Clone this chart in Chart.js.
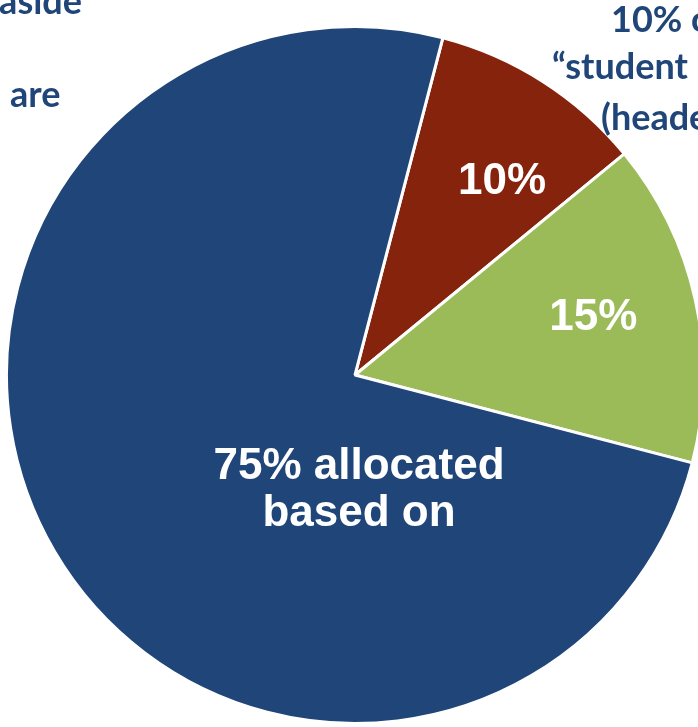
<!DOCTYPE html>
<html>
<head>
<meta charset="utf-8">
<script src="https://cdn.jsdelivr.net/npm/chart.js@4"></script>
<style>
html,body{margin:0;padding:0;overflow:hidden;background:#ffffff;width:698px;height:727px}
canvas{position:absolute;left:0;top:0}
</style>
</head>
<body>
<canvas id="c" width="720" height="760"></canvas>
<script>
// ---- data ----
const categories = ["10% set aside for student need", "15% set aside", "75% allocated based on enrollment"];
const shares = [10, 15, 75];
const sliceLabels = [["10%"], ["15%"], ["75% allocated", "based on"]];
const notesLeft = ["aside", "are"];
const notesRight = ["10% of", "\u201cstudent", "(header)"];

// ---- styling (not data) ----
const sliceColors = ["#85230D", "#9BBB59", "#1F4579"];
const textBlue = "#1F4579";
const labelPlacement = [
  { turn: 4.7, dist: 0.696 },
  { turn: -1.1, dist: 0.703 },
  { turn: -61.6, dist: 0.33 }
];

const sliceLabelPlugin = {
  id: "sliceLabels",
  afterDatasetsDraw(chart) {
    const ctx = chart.ctx;
    const arcs = chart.getDatasetMeta(0).data;
    ctx.save();
    ctx.fillStyle = "#ffffff";
    ctx.font = 'bold 44px "Liberation Sans", Arial, sans-serif';
    ctx.textAlign = "center";
    ctx.textBaseline = "middle";
    arcs.forEach((arc, i) => {
      const p = arc.getProps(["x", "y", "startAngle", "endAngle", "outerRadius"], true);
      const a = (p.startAngle + p.endAngle) / 2 + labelPlacement[i].turn * Math.PI / 180;
      const r = p.outerRadius * labelPlacement[i].dist;
      const cx = p.x + Math.cos(a) * r;
      const cy = p.y + Math.sin(a) * r;
      const lines = sliceLabels[i];
      lines.forEach((t, k) => ctx.fillText(t, cx, cy + (k - (lines.length - 1) / 2) * 47));
    });
    ctx.restore();
  }
};

const notesPlugin = {
  id: "notes",
  afterDraw(chart) {
    const ctx = chart.ctx;
    ctx.save();
    ctx.fillStyle = textBlue;
    ctx.font = 'bold 36px Lato, "Open Sans", sans-serif';
    ctx.textBaseline = "alphabetic";
    ctx.textAlign = "right";
    ctx.fillText(notesLeft[0], 82, 14);
    ctx.textAlign = "left";
    ctx.fillText(notesLeft[1], 10, 107);
    ctx.fillText(notesRight[0], 611, 32);
    ctx.fillText(notesRight[1], 552, 79);
    ctx.fillText(notesRight[2], 601, 130);
    ctx.restore();
  }
};

new Chart(document.getElementById("c"), {
  type: "pie",
  data: {
    labels: categories,
    datasets: [{
      data: shares,
      backgroundColor: sliceColors,
      borderColor: "#ffffff",
      borderWidth: 3
    }]
  },
  options: {
    responsive: false,
    animation: false,
    devicePixelRatio: 1,
    rotation: 14.6,
    layout: { padding: { left: 5, top: 25, right: 15, bottom: 35 } },
    plugins: {
      legend: { display: false },
      tooltip: { enabled: false }
    }
  },
  plugins: [sliceLabelPlugin, notesPlugin]
});
</script>
</body>
</html>
